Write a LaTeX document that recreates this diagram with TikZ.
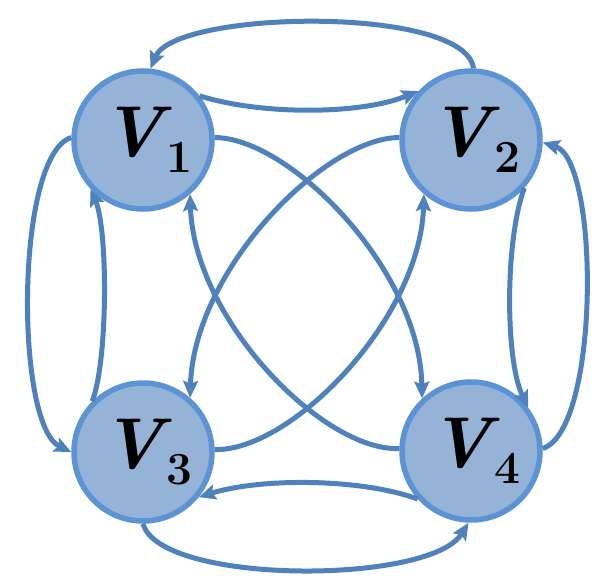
\documentclass[tikz,border=0pt]{standalone}
\usepackage{fontspec}
\usetikzlibrary{arrows.meta}
\definecolor{nodefill}{HTML}{95B3D7}
\definecolor{nodeline}{HTML}{5B93D5}
\definecolor{edgecol}{HTML}{4F81BD}
\newcommand{\vlab}[1]{\kern8pt{\bfseries\itshape V}\kern2pt\raisebox{-16pt}{\fontsize{46}{46}\selectfont\bfseries #1}}
\begin{document}
\begin{tikzpicture}[x=1pt,y=-1pt,
  vert/.style={circle,draw=nodeline,fill=nodefill,line width=5.5pt,minimum size=138pt,inner sep=0pt,
    font=\fontsize{72}{72}\selectfont},
  edge/.style={draw=edgecol,line width=5pt,-{Stealth[length=17pt,width=15pt,inset=3pt]}}]
\useasboundingbox (0,0) rectangle (606,578);
\node[vert] (v1) at (143,140) {\vlab{1}};
\node[vert] (v2) at (471,140) {\vlab{2}};
\node[vert] (v3) at (143,452) {\vlab{3}};
\node[vert] (v4) at (471,451) {\vlab{4}};
% top
\draw[edge] (v2.88) .. controls (465,5) and (175,10) .. (v1.84);
\draw[edge] (v1.38) .. controls (260,115) and (360,115) .. (v2.137);
% bottom
\draw[edge] (v4.222) .. controls (360,478) and (260,478) .. (v3.-39);
\draw[edge] (v3.-90) .. controls (160,585) and (430,585) .. (v4.-92);
% left
\draw[edge] (v1.178) .. controls (15,155) and (15,425) .. (v3.180);
\draw[edge] (v3.135) .. controls (108,360) and (108,230) .. (v1.223);
% right
\draw[edge] (v4.2) .. controls (600,430) and (600,160) .. (v2.-2);
\draw[edge] (v2.-42) .. controls (505,240) and (505,360) .. (v4.37);
% diagonals
\draw[edge] (v1.2) .. controls (290,138) and (420,270) .. (v4.133);
\draw[edge] (v2.178) .. controls (324,138) and (194,270) .. (v3.49);
\draw[edge] (v4.178) .. controls (324,452) and (194,320) .. (v1.-49);
\draw[edge] (v3.2) .. controls (290,452) and (420,320) .. (v2.-131);
\end{tikzpicture}
\end{document}
